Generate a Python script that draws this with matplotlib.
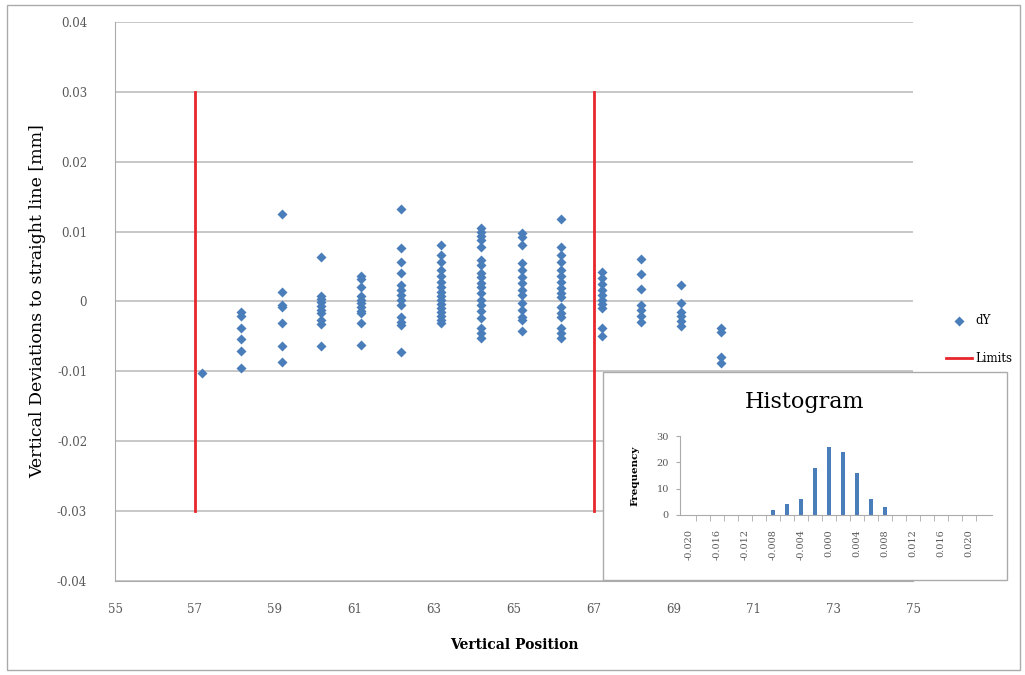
import matplotlib.pyplot as plt
from matplotlib.patches import Rectangle

plt.rcParams['font.family'] = ['DejaVu Serif']

# measurement columns (vertical position) and dY deviations in mm
positions = [57.17, 58.17, 59.18, 60.17, 61.17, 62.18, 63.18, 64.18, 65.19, 66.19, 67.2, 68.18, 69.19, 70.19]
deviations = [
    [-0.0102],
    [-0.0015, -0.0021, -0.0038, -0.0054, -0.0071, -0.0095],
    [0.0125, 0.0014, -0.0005, -0.0008, -0.0031, -0.0064, -0.0086],
    [0.0064, 0.0008, 0.0004, -0.0001, -0.0006, -0.0012, -0.0016, -0.0026, -0.0032, -0.0064],
    [0.0036, 0.0032, 0.0021, 0.0008, 0.0002, -0.0002, -0.0008, -0.0014, -0.0016, -0.0031, -0.0062],
    [0.0132, 0.0077, 0.0057, 0.0041, 0.0024, 0.0016, 0.0009, 0.0002, -0.0005, -0.0022, -0.0029, -0.0034, -0.0072],
    [0.0081, 0.0067, 0.0057, 0.0045, 0.0036, 0.0028, 0.0021, 0.0014, 0.0008, 0.0002, -0.0004, -0.0009,
     -0.0015, -0.0021, -0.0026, -0.0031],
    [0.0105, 0.0099, 0.0094, 0.0088, 0.0078, 0.0059, 0.0052, 0.0041, 0.0035, 0.0026, 0.0021, 0.0012,
     0.0002, -0.0005, -0.0014, -0.0024, -0.0038, -0.0045, -0.0052],
    [0.0098, 0.0092, 0.0081, 0.0055, 0.0045, 0.0035, 0.0026, 0.0016, 0.0009, -0.0002, -0.0012, -0.0022,
     -0.0026, -0.0042],
    [0.0118, 0.0078, 0.0067, 0.0057, 0.0045, 0.0036, 0.0028, 0.0019, 0.0012, 0.0006, -0.0008, -0.0016,
     -0.0022, -0.0038, -0.0045, -0.0052],
    [0.0042, 0.0034, 0.0025, 0.0016, 0.0009, 0.0002, -0.0004, -0.0009, -0.0038, -0.0049],
    [0.0061, 0.0039, 0.0018, -0.0005, -0.0012, -0.0021, -0.0029],
    [0.0024, -0.0002, -0.0015, -0.0021, -0.0028, -0.0035],
    [-0.0038, -0.0044, -0.0079, -0.0088],
]
limit_x = [57, 67]
limit_y = [-0.03, 0.03]

# histogram of the deviations
hist_bins = ['-0.020', '-0.018', '-0.016', '-0.014', '-0.012', '-0.010', '-0.008', '-0.006', '-0.004',
             '-0.002', '0.000', '0.002', '0.004', '0.006', '0.008', '0.010', '0.012', '0.014',
             '0.016', '0.018', '0.020']
hist_counts = [0, 0, 0, 0, 0, 0, 2, 4, 6, 18, 26, 24, 16, 6, 3, 0, 0, 0, 0, 0, 0]

blue = '#4A7EBB'
red = '#E8262B'
grid = '#BDBDBD'
frame = '#ABABAB'

W, H = 1025, 675
fig = plt.figure(figsize=(W / 100, H / 100), dpi=100)

# outer chart border
fig.patches.append(Rectangle((7 / W, 1 - 670 / H), 1013 / W, 665 / H, transform=fig.transFigure,
                             fill=False, edgecolor=frame, linewidth=1.0))

ax = fig.add_axes([115 / W, 1 - 581 / H, (913 - 115) / W, (581 - 22) / H])
xs = [p for p, col in zip(positions, deviations) for _ in col]
ys = [v for col in deviations for v in col]
ax.scatter(xs, ys, marker='D', s=26, color=blue, linewidths=0, zorder=3, label='dY')
for x in limit_x:
    ax.plot([x, x], limit_y, color=red, linewidth=2, zorder=2,
            label='Limits' if x == limit_x[0] else None)

ax.set_xlim(55, 75)
ax.set_ylim(-0.04, 0.04)
ax.set_xticks(range(55, 76, 2))
ax.set_yticks([-0.04, -0.03, -0.02, -0.01, 0, 0.01, 0.02, 0.03, 0.04])
ax.set_yticklabels(['-0.04', '-0.03', '-0.02', '-0.01', '0', '0.01', '0.02', '0.03', '0.04'])
ax.yaxis.grid(True, color=grid, linewidth=1.2)
ax.set_axisbelow(True)
for side in ('top', 'right'):
    ax.spines[side].set_visible(False)
for side in ('left', 'bottom'):
    ax.spines[side].set_color(frame)
ax.tick_params(axis='both', length=0, labelsize=8.5, colors='#595959')
ax.tick_params(axis='x', pad=16)
ax.tick_params(axis='y', pad=20)
ax.set_ylabel('Vertical Deviations to straight line [mm]', fontsize=12.5, labelpad=8)
ax.set_xlabel('Vertical Position', fontsize=10, fontweight='bold', labelpad=16)

leg = ax.legend(loc='center left', bbox_to_anchor=(1.035, 0.432), frameon=False, fontsize=8.5,
                handlelength=2.2, handletextpad=0.3, labelspacing=2.1, borderaxespad=0)

# inset histogram panel
fig.patches.append(Rectangle((603 / W, 1 - 580 / H), 404 / W, 208 / H, transform=fig.transFigure,
                             facecolor='white', edgecolor=frame, linewidth=1.0, zorder=5))
fig.text(805 / W, 1 - 402 / H, 'Histogram', ha='center', va='center', fontsize=16, zorder=6)

hx = fig.add_axes([680 / W, 1 - 515 / H, (992 - 680) / W, (515 - 436) / H])
hx.set_zorder(6)
idx = list(range(len(hist_bins)))
hx.bar(idx, hist_counts, width=0.32, color=blue)
hx.set_xlim(-0.64, 21.64)
hx.set_ylim(0, 30)
hx.set_yticks([0, 10, 20, 30])
hx.set_xticks(idx[::2])
hx.set_xticklabels(hist_bins[::2], rotation=90, fontsize=7, color='#595959')
hx.set_xticks([i + 0.5 for i in idx], minor=True)
hx.tick_params(axis='x', which='major', length=0, pad=10)
hx.tick_params(axis='x', which='minor', length=4, color=frame, direction='out')
hx.tick_params(axis='y', length=3, color=frame, labelsize=7, colors='#595959', pad=5)
for side in ('top', 'right'):
    hx.spines[side].set_visible(False)
for side in ('left', 'bottom'):
    hx.spines[side].set_color(frame)
hx.set_ylabel('Frequency', fontsize=7.5, fontweight='bold', labelpad=12)
hx.patch.set_alpha(0)

fig.savefig('out.png', dpi=100)
